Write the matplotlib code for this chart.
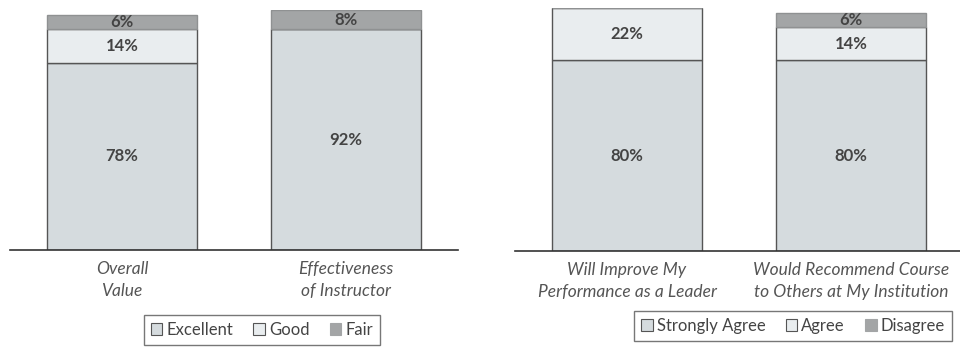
import numpy as np
import matplotlib.pyplot as plt
from matplotlib.patches import Patch

plt.rcParams['font.family'] = ['Lato', 'DejaVu Sans']

# course evaluation (left) and impact (right) results, percent of respondents
eval_cats = ['Overall\nValue', 'Effectiveness\nof Instructor']
eval_labels = ['Excellent', 'Good', 'Fair']
excellent = [78, 92]
good = [14, 0]
fair = [6, 8]

impact_cats = ['Will Improve My\nPerformance as a Leader',
               'Would Recommend Course\nto Others at My Institution']
impact_labels = ['Strongly Agree', 'Agree', 'Disagree']
strongly_agree = [80, 80]
agree = [22, 14]
disagree = [0, 6]

COLORS = ['#d5dbde', '#e9edef', '#a3a5a6']
EDGE = '#555555'
TEXT = '#444444'

W, H = 960, 347
fig = plt.figure(figsize=(W / 100, H / 100), dpi=100)


def _axes(x0, x1, y_base, y_top):
    return fig.add_axes([x0 / W, (H - y_base) / H, (x1 - x0) / W, (y_base - y_top) / H])


def draw_panel(ax, cats, series, labels, ymax, legend_box):
    x = np.arange(len(cats))
    bottom = np.zeros(len(cats))
    for vals, color in zip(series, COLORS):
        vals = np.array(vals, dtype=float)
        ec = EDGE if color != COLORS[2] else '#8f9192'
        ax.bar(x, vals, bottom=bottom, width=0.67, color=color,
               edgecolor=ec, linewidth=1.0, zorder=2)
        for xi, b, v in zip(x, bottom, vals):
            if v > 0:
                ax.text(xi, b + v / 2, f'{v:.0f}%', ha='center', va='center',
                        fontsize=12, fontweight='bold', color=TEXT, zorder=3)
        bottom += vals

    ax.set_xlim(-0.5, 1.5)
    ax.set_ylim(0, ymax)
    for side in ('top', 'left', 'right'):
        ax.spines[side].set_visible(False)
    ax.spines['bottom'].set_color('#333333')
    ax.spines['bottom'].set_linewidth(1.2)
    ax.set_yticks([])
    ax.set_xticks(x)
    ax.set_xticklabels(cats, fontsize=12.5, style='italic', color='#555555',
                       linespacing=1.45)
    ax.tick_params(axis='x', length=0, pad=8)

    handles = [Patch(facecolor=c, edgecolor=(EDGE if i < 2 else c), linewidth=0.8)
               for i, c in enumerate(COLORS)]
    leg = fig.legend(handles, labels, loc='center',
                     bbox_to_anchor=legend_box, bbox_transform=fig.transFigure,
                     ncol=3, fontsize=12, frameon=True, fancybox=False,
                     handlelength=0.7, handleheight=0.7, handletextpad=0.25,
                     columnspacing=1.2, borderpad=0.4)
    leg.get_frame().set_edgecolor('#555555')
    leg.get_frame().set_linewidth(1.0)
    for t in leg.get_texts():
        t.set_color(TEXT)


ax1 = _axes(10, 458, 250, 10)
draw_panel(ax1, eval_cats, [excellent, good, fair], eval_labels, 100,
           (262 / W, (H - 330) / H))

ax2 = _axes(515, 963, 251, 8)
draw_panel(ax2, impact_cats, [strongly_agree, agree, disagree], impact_labels, 102,
           (793 / W, (H - 326) / H))

fig.savefig('out.png', dpi=100)
